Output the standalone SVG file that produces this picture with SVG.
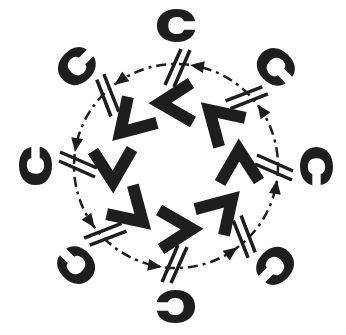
<svg xmlns="http://www.w3.org/2000/svg" xmlns:xlink="http://www.w3.org/1999/xlink" width="346" height="335" viewBox="0 0 346 335">
<style>
.c{font-family:Inter,"Liberation Sans",sans-serif;font-weight:900;font-size:46px;fill:#1e1e1c;text-anchor:middle}
.chev{fill:none;stroke:#1e1e1c;stroke-width:12;stroke-linejoin:miter;stroke-miterlimit:10}
.bar{stroke:#1e1e1c;stroke-width:3.5}
.ring{fill:none;stroke:#1e1e1c;stroke-width:2.5;stroke-dasharray:10 5 3 5}
.ah{fill:#1e1e1c}
</style>
<defs>
<polyline id="chv" class="chev" points="191,83 160,103 193,122"/>
<g id="bond"><line class="bar" x1="181" y1="49" x2="165" y2="85"/><line class="bar" x1="190" y1="50" x2="174" y2="87"/></g>
<path id="head" class="ah" d="M0,0 L14,-6 L14,6 Z" transform="translate(190,65) rotate(9)"/>
</defs>
<g id="connectors">
<circle class="ring" cx="176" cy="166" r="102"/>
<use xlink:href="#bond"/><use xlink:href="#head"/>
<use xlink:href="#bond" transform="rotate(45 176 166)"/><use xlink:href="#head" transform="rotate(45 176 166)"/>
<use xlink:href="#bond" transform="rotate(90 176 166)"/><use xlink:href="#head" transform="rotate(90 176 166)"/>
<use xlink:href="#bond" transform="rotate(135 176 166)"/><use xlink:href="#head" transform="rotate(135 176 166)"/>
<use xlink:href="#bond" transform="rotate(180 176 166)"/><use xlink:href="#head" transform="rotate(180 176 166)"/>
<use xlink:href="#bond" transform="rotate(225 176 166)"/><use xlink:href="#head" transform="rotate(225 176 166)"/>
<use xlink:href="#bond" transform="rotate(270 176 166)"/><use xlink:href="#head" transform="rotate(270 176 166)"/>
<use xlink:href="#bond" transform="rotate(315 176 166)"/><use xlink:href="#head" transform="rotate(315 176 166)"/>
</g>
<g id="unit-top"><g transform="translate(176,42) scale(1.22,1)"><text class="c">C</text></g><use xlink:href="#chv"/></g>
<g id="unit-upper-right" transform="rotate(45 176 166)"><g transform="translate(176,42) scale(1.22,1)"><text class="c">C</text></g><use xlink:href="#chv"/></g>
<g id="unit-right" transform="rotate(90 176 166)"><g transform="translate(176,42) scale(1.22,1)"><text class="c">C</text></g><use xlink:href="#chv"/></g>
<g id="unit-lower-right" transform="rotate(135 176 166)"><g transform="translate(176,42) scale(1.22,1)"><text class="c">C</text></g><use xlink:href="#chv"/></g>
<g id="unit-bottom" transform="rotate(180 176 166)"><g transform="translate(176,42) scale(1.22,1)"><text class="c">C</text></g><use xlink:href="#chv"/></g>
<g id="unit-lower-left" transform="rotate(225 176 166)"><g transform="translate(176,42) scale(1.22,1)"><text class="c">C</text></g><use xlink:href="#chv"/></g>
<g id="unit-left" transform="rotate(270 176 166)"><g transform="translate(176,42) scale(1.22,1)"><text class="c">C</text></g><use xlink:href="#chv"/></g>
<g id="unit-upper-left" transform="rotate(315 176 166)"><g transform="translate(176,42) scale(1.22,1)"><text class="c">C</text></g><use xlink:href="#chv"/></g>
</svg>
